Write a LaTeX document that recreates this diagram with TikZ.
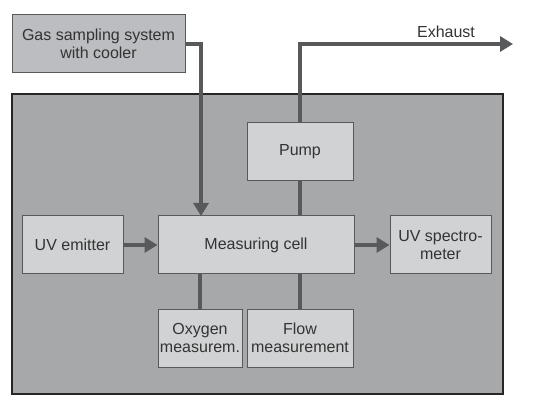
\documentclass[tikz,border=0pt]{standalone}
\usepackage{fontspec}
\setmainfont{Liberation Sans}
\usetikzlibrary{arrows.meta}
\definecolor{linec}{HTML}{58595B}
\definecolor{boxf}{HTML}{D1D2D4}
\definecolor{gasf}{HTML}{BCBDC0}
\definecolor{bigf}{HTML}{A7A8AA}
\definecolor{txt}{HTML}{333333}
\begin{document}
\begin{tikzpicture}[x=1pt,y=-1pt,
  every node/.style={font=\fontsize{16}{18.5}\selectfont, text=txt, align=center, inner sep=0pt},
  blk/.style={draw=linec, line width=1pt, fill=boxf},
  conn/.style={draw=linec, line width=4.5pt},
  arr/.style={conn, -{Triangle[length=13pt,width=15pt]}}]
\useasboundingbox (0,0) rectangle (533,414);
\fill[white] (0,0) rectangle (533,414);
% big housing
\draw[draw=black!85, line width=2pt, fill=bigf] (12,94) rectangle (503,394);
% gas box
\node[blk, fill=gasf, minimum width=173pt, minimum height=58pt] (gas) at (98.5,44) {Gas sampling system\\with cooler};
\node[blk, minimum width=106pt, minimum height=58pt] (pump) at (300,152) {Pump};
\node[blk, minimum width=101pt, minimum height=58pt] (uve) at (72.5,245) {UV emitter};
\node[blk, minimum width=196pt, minimum height=58pt] (cell) at (256,245) {Measuring cell};
\node[blk, minimum width=101pt, minimum height=58pt] (uvs) at (440.5,245) {UV spectro-\\meter};
\node[blk, minimum width=84pt, minimum height=58pt] (oxy) at (200,338) {Oxygen\\measurem.};
\node[blk, minimum width=106pt, minimum height=58pt] (flow) at (300,338) {Flow\\measurement};
\coordinate (exh) at (513,44);
\node[anchor=south] (exl) at (446,38) {Exhaust};
% connectors
\draw[arr] (gas.east |- 0,44) -| (201,216) coordinate (gin);
\draw[conn] (pump.north) -- (300,44) -- (485,44);
\draw[arr] (300,44) -- (exh);
\draw[conn] (pump.south) -- (cell.north -| pump.south);
\draw[arr] (uve.east) -- (cell.west);
\draw[arr] (cell.east) -- (uvs.west);
\draw[conn] (cell.south -| oxy.north) -- (oxy.north);
\draw[conn] (cell.south -| flow.north) -- (flow.north);
\end{tikzpicture}
\end{document}
